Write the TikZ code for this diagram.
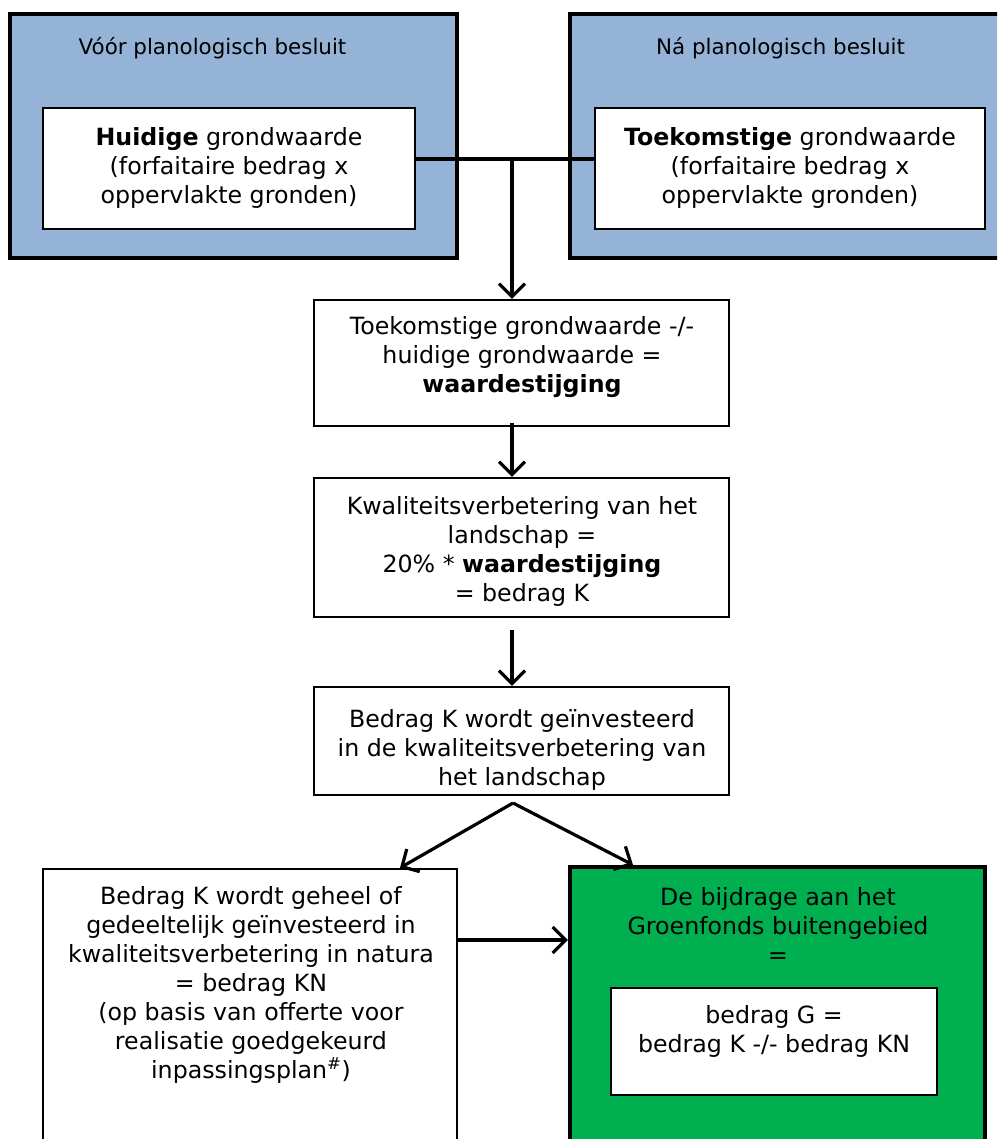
\documentclass[tikz,border=0pt]{standalone}
\usepackage{fontspec}
\setmainfont{DejaVu Sans}
\usetikzlibrary{arrows.meta,calc}
\definecolor{lblue}{HTML}{95B3D7}
\definecolor{kgreen}{HTML}{00B050}
\begin{document}
\begin{tikzpicture}[x=1pt,y=-1pt,
  every node/.style={font=\fontsize{23.7}{29}\selectfont},
  boxsize/.style 2 args={rectangle, inner sep=0pt, minimum width=#1pt, minimum height=#2pt},
  bluebox/.style={draw=black, line width=4.2pt, fill=lblue},
  greenbox/.style={draw=black, line width=4.2pt, fill=kgreen},
  whitebox/.style={draw=black, line width=2.2pt, fill=white},
  txt/.style={align=center, inner sep=0pt},
  headtxt/.style={align=center, inner sep=0pt, font=\fontsize{21.4}{26}\selectfont},
  conn/.style={line width=3.2pt},
  arr/.style={line width=3.2pt, -{Straight Barb[length=13pt,width=26pt]}}
]
\clip (0,0) rectangle (997,1139);
\fill[white] (0,0) rectangle (997,1139);

% top blue boxes
\node[bluebox, boxsize={447}{244}] (Lblue) at (233.5,136) {};
\node[bluebox, boxsize={447}{244}] (Rblue) at (793.5,136) {};
\node[whitebox, boxsize={372}{121}] (Linner) at (229,168.5) {};
\node[whitebox, boxsize={390}{121}] (Rinner) at (790,168.5) {};
\node[headtxt] (tL) at (212.5,48) {Vóór planologisch besluit};
\node[headtxt] (tR) at (780.5,48) {Ná planologisch besluit};
\node[txt] (tLin) at (229,168) {\textbf{Huidige} grondwaarde\\(forfaitaire bedrag x\\oppervlakte gronden)};
\node[txt] (tRin) at (790,168) {\textbf{Toekomstige} grondwaarde\\(forfaitaire bedrag x\\oppervlakte gronden)};

% middle boxes
\node[whitebox, boxsize={415}{126}] (diff) at (521.5,363) {};
\node[txt] (tdiff) at (522,357) {Toekomstige grondwaarde -/-\\huidige grondwaarde =\\\textbf{waardestijging}};
\node[whitebox, boxsize={415}{139}] (kwal) at (521.5,547.5) {};
\node[txt] (tkwal) at (522,551) {Kwaliteitsverbetering van het\\landschap =\\20\% * \textbf{waardestijging}\\= bedrag K};
\node[whitebox, boxsize={415}{108}] (invest) at (521.5,741) {};
\node[txt] (tinvest) at (522,750) {Bedrag K wordt geïnvesteerd\\in de kwaliteitsverbetering van\\het landschap};

% bottom boxes
\node[whitebox, boxsize={414}{301}] (natura) at (250,1019.5) {};
\node[txt] (tnatura) at (251,985) {Bedrag K wordt geheel of\\gedeeltelijk geïnvesteerd in\\kwaliteitsverbetering in natura\\= bedrag KN\\(op basis van offerte voor\\realisatie goedgekeurd\\inpassingsplan\textsuperscript{\#})};
\node[greenbox, boxsize={415}{303}] (green) at (777.5,1018.5) {};
\node[txt] (tgreen) at (778,925) {De bijdrage aan het\\Groenfonds buitengebied\\=};
\node[whitebox, boxsize={326}{107}] (ginner) at (774,1041.5) {};
\node[txt] (tginner) at (774,1031) {bedrag G =\\bedrag K -/- bedrag KN};

% connectors
\coordinate (hj) at (512,159);
\coordinate (apex) at (513,803);
\coordinate (tl) at (400,0);
\coordinate (tr) at (633,0);
\coordinate (hr) at (0,940);
\draw[conn] (Linner.east |- hj) -- (Rinner.west |- hj);
\draw[arr] (hj) -- (hj |- diff.north);
\draw[arr] ([yshift=4pt]hj |- diff.south) -- (hj |- kwal.north);
\draw[arr] ([yshift=-12pt]hj |- kwal.south) -- (hj |- invest.north);
\draw[arr] (apex) -- (tl |- natura.north);
\draw[arr] (apex) -- (tr |- green.north);
\draw[arr] (natura.east |- hr) -- (green.west |- hr);
\end{tikzpicture}
\end{document}
